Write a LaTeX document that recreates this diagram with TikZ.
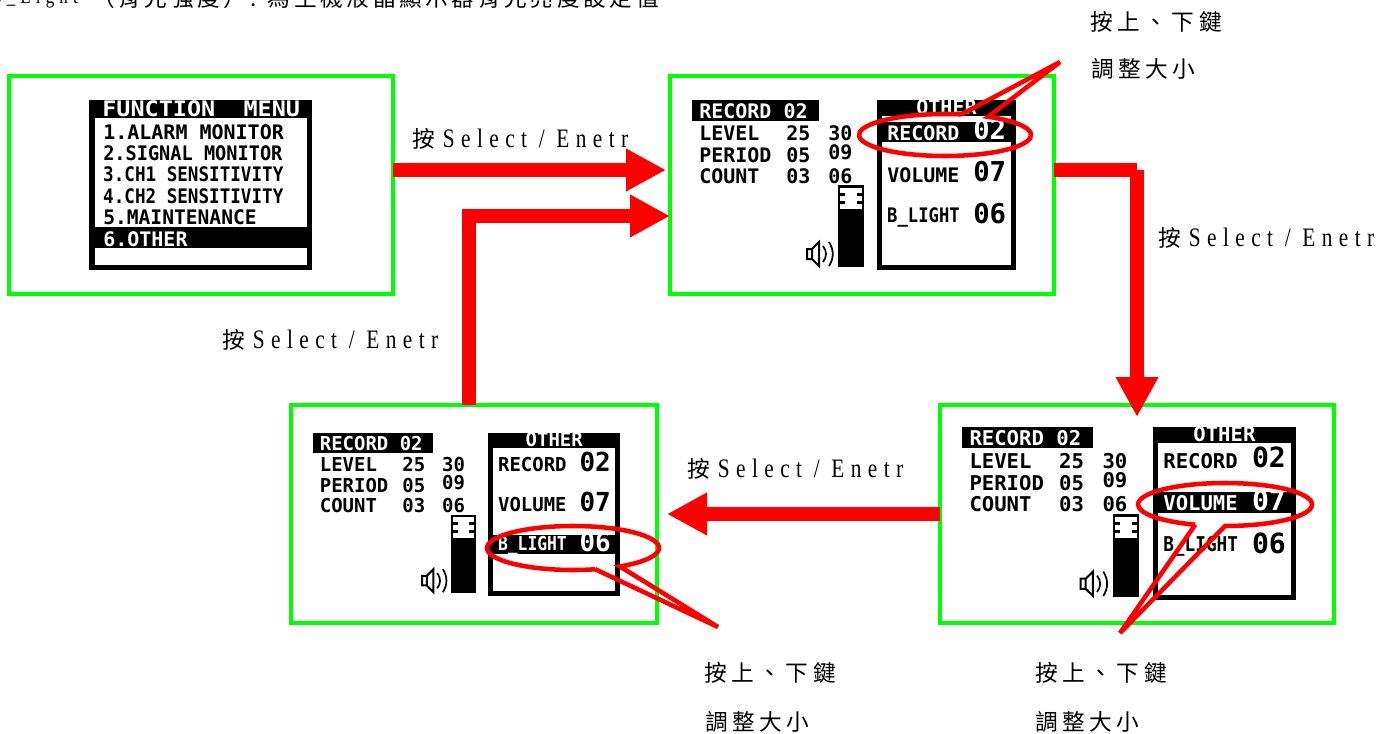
\documentclass[tikz,border=0pt]{standalone}
\usepackage{fontspec}
\usepackage{tikz}
\usetikzlibrary{arrows.meta,calc,positioning}
\setmainfont{Liberation Serif}
\newfontfamily\cjk[LetterSpace=20]{Noto Sans CJK TC}
\newfontfamily\cjktop[LetterSpace=16]{Noto Sans CJK TC}
\newfontfamily\keyfont[FakeStretch=0.8,LetterSpace=24]{Liberation Serif}
\newfontfamily\lcdfont{DejaVu Sans Mono Bold}
\definecolor{boxgreen}{RGB}{0,255,0}
\definecolor{arrowred}{RGB}{255,0,0}
\tikzset{%
	greenbox/.style = {draw=boxgreen, line width=3pt, rectangle, outer sep=0pt, inner sep=0pt, minimum height=163.5pt},
	bigarrow/.style = {draw=arrowred, line width=10pt, -{Triangle[length=30pt,width=30pt]}},
	bigline/.style  = {draw=arrowred, line width=10pt},
	callout/.style  = {draw=arrowred, line width=3.4pt, line join=miter},
	keylabel/.style = {anchor=west, inner sep=0pt, font=\fontsize{17}{20}\selectfont},
	lcdsmall/.style = {anchor=west, inner sep=0pt, font=\lcdfont\fontsize{15}{15}\selectfont},
	lcdlarge/.style = {anchor=west, inner sep=0pt, font=\lcdfont\fontsize{20.5}{20.5}\selectfont},
}
\newcommand{\selkey}{{\cjk 按}\hspace{6pt}{\keyfont\fontsize{20}{20}\selectfont Select / Enetr}}
\newcommand{\updown}{{\cjk 按上、下鍵}}
\newcommand{\resize}{{\cjk 調整大小}}
% #1 prefix, #2 x, #3 y, #4 xscale, #5 yscale, #6 selected row
\newcommand{\recscreen}[6]{%
	\begin{scope}[shift={(#2,#3)},xscale=#4,yscale=#5,transform shape]
		\fill (0,0) rectangle (127,21);
		\node[lcdsmall,text=white] (#1rec) at (7,11) {RECORD 02};
		\node[lcdsmall] (#1lev) at (7,33) {LEVEL};
		\node[lcdsmall] (#1per) at (7,55) {PERIOD};
		\node[lcdsmall] (#1cou) at (7,76) {COUNT};
		\node[lcdsmall] (#1leva) at (94,33) {25};
		\node[lcdsmall] (#1pera) at (94,55) {05};
		\node[lcdsmall] (#1coua) at (94,76) {03};
		\node[lcdsmall] (#1levb) at (136,33) {30};
		\node[lcdsmall] (#1perb) at (136,52) {09};
		\node[lcdsmall] (#1coub) at (136,76) {06};
		\fill (146,85) rectangle (172,167);
		\fill[white] (148,88) rectangle (170,109);
		\fill (148,93) rectangle (153,96);
		\fill (165,93) rectangle (170,96);
		\fill (148,101) rectangle (153,104);
		\fill (165,101) rectangle (170,104);
		\draw[line width=1.5pt] (115,149) rectangle (120,159) (120,149) -- (127,142) -- (127,166) -- (120,159);
		\draw[line width=1.3pt] (131,146) .. controls (135,151) and (135,157) .. (131,162);
		\draw[line width=1.3pt] (137,142) .. controls (142,150) and (142,158) .. (137,166);
		\fill (185,0) rectangle (324,170);
		\fill[white] (190,16) rectangle (319,165);
		\node[lcdsmall,text=white,anchor=center] (#1oth) at (254.5,7) {OTHER};
		\foreach \rowname/\rowval/\rowy/\rowsq [count=\i] in {RECORD/02/33/1,VOLUME/07/75/1,B\_LIGHT/06/117/0.86}{
			\def\rowcol{black}
			\ifnum\i=#6
				\fill (185,\rowy-11) rectangle (324,\rowy+9);
				\def\rowcol{white}
			\fi
			\node[lcdsmall,text=\rowcol,xscale=\rowsq] (#1row\i) at (195,\rowy) {\rowname};
			\node[lcdlarge,text=\rowcol] (#1val\i) at (281,\rowy-3) {\rowval};
		}
	\end{scope}
}
\begin{document}
\begin{tikzpicture}[x=0.75pt,y=-0.75pt]
	\useasboundingbox (0,0) rectangle (1394,734);
	\fill[white] (0,0) rectangle (1394,734);
	\node[keylabel] (topLatin) at (-10,-2) {\keyfont\fontsize{16}{16}\selectfont B\_Light};
	\node[keylabel] (topCjk) at (92,-2) {\cjktop （背光強度）: 為主機液晶顯示器背光亮度設定值};

	\node[greenbox,minimum width=288pt] (menuBox) at (201,185) {};
	\node[greenbox,minimum width=288pt] (recBox) at (862,185) {};
	\node[greenbox,minimum width=274.5pt] (lightBox) at (474,514) {};
	\node[greenbox,minimum width=295.5pt] (volBox) at (1137,514) {};

	% menu screen
	\fill (89,100) rectangle (312,270);
	\fill[white] (95,118) rectangle (307,227);
	\fill[white] (95,248) rectangle (307,265);
	\node[lcdsmall,text=white,xscale=1.1,font=\lcdfont\fontsize{16}{16}\selectfont] (menuTitle) at (102,109) {FUNCTION~~MENU};
	\foreach \entry/\entryy/\entrysq [count=\i] in {1.ALARM MONITOR/132/1,2.SIGNAL MONITOR/153/0.93,3.CH1 SENSITIVITY/174.5/0.88,4.CH2 SENSITIVITY/196/0.88,5.MAINTENANCE/217/0.98}
		\node[lcdsmall,xscale=\entrysq] (menu\i) at (103,\entryy) {\entry};
	\node[lcdsmall,text=white] (menuOther) at (103,239) {6.OTHER};

	\recscreen{rec}{692}{100}{1}{1}{1}
	\recscreen{light}{313}{433}{0.948}{0.959}{3}
	\recscreen{vol}{962}{427}{1.031}{1.018}{2}

	% arrows
	\draw[bigarrow] ([yshift=11.25pt]menuBox.east) -- ([xshift=-3pt,yshift=11.25pt]recBox.west);
	\draw[bigarrow] ([xshift=-3.75pt]lightBox.north) |- ([yshift=-23.25pt]recBox.west);
	\coordinate (recBend) at (1137,170);
	\draw[bigline] ([yshift=11.25pt]recBox.east) -- (recBend);
	\draw[bigarrow] (recBend) -- ([yshift=-9pt]volBox.north);
	\draw[bigarrow] (volBox.west) -- ([xshift=7.5pt]lightBox.east);

	% callouts
	\coordinate (recTip) at (1060,62);
	\coordinate (lightTip) at (718,627);
	\coordinate (volTip) at (1120,633);
	\draw[callout] (945,135) ++(-79:86 and 21) -- (recTip) -- ($(945,135)+(-60:86 and 21)$) arc[start angle=-60,end angle=281,x radius=86,y radius=21];
	\draw[callout] (573,548) ++(75:86 and 22) -- (lightTip) -- ($(573,548)+(57:86 and 22)$) arc[start angle=57,end angle=-285,x radius=86,y radius=22];
	\draw[callout] (1225,504.5) ++(110:87 and 21.5) -- (volTip) -- ($(1225,504.5)+(90:87 and 21.5)$) arc[start angle=90,end angle=-250,x radius=87,y radius=21.5];

	% labels
	\node[keylabel] (keyA) at (412,139) {\selkey};
	\node[keylabel] (keyB) at (1158,238) {\selkey};
	\node[keylabel] (keyC) at (222,340) {\selkey};
	\node[keylabel] (keyD) at (687,469) {\selkey};
	\node[keylabel] (upRec) at (1090,22) {\updown};
	\node[keylabel] (sizeRec) at (1091,69) {\resize};
	\node[keylabel] (upLight) at (704,673) {\updown};
	\node[keylabel] (sizeLight) at (705,722) {\resize};
	\node[keylabel] (upVol) at (1035,673) {\updown};
	\node[keylabel] (sizeVol) at (1035,722) {\resize};
\end{tikzpicture}
\end{document}
